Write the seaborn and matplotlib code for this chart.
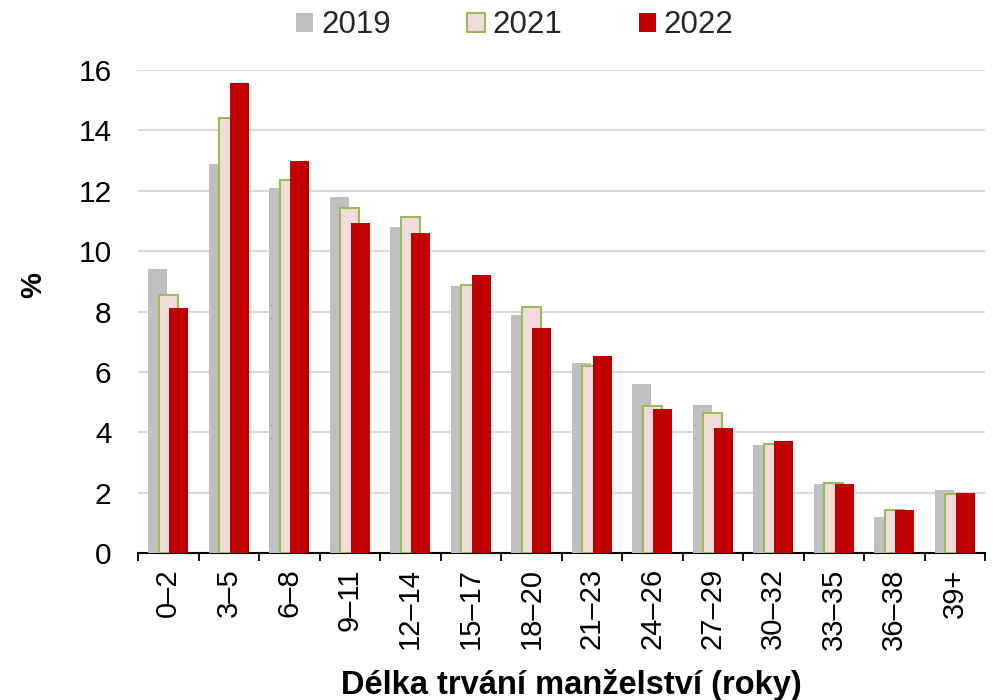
import numpy as np
import pandas as pd
import matplotlib
matplotlib.use("Agg")
import matplotlib.pyplot as plt
from matplotlib.patches import Patch
import seaborn as sns

# Data (share of divorces, %)
categories = ["0–2", "3–5", "6–8", "9–11", "12–14", "15–17", "18–20",
              "21–23", "24–26", "27–29", "30–32", "33–35", "36–38", "39+"]
years = ["2019", "2021", "2022"]
v2019 = [9.4, 12.9, 12.1, 11.8, 10.8, 8.86, 7.9, 6.28, 5.61, 4.91, 3.59, 2.30, 1.18, 2.08]
v2021 = [8.54, 14.41, 12.36, 11.44, 11.13, 8.87, 8.15, 6.21, 4.88, 4.64, 3.61, 2.33, 1.43, 1.95]
v2022 = [8.10, 15.58, 13.0, 10.92, 10.59, 9.22, 7.45, 6.54, 4.77, 4.13, 3.70, 2.28, 1.42, 2.00]
yticks = [0, 2, 4, 6, 8, 10, 12, 14, 16]

sns.set_theme(style="white")
plt.rcParams["font.family"] = ["Liberation Sans", "DejaVu Sans"]

fig = plt.figure(figsize=(9.94, 7), dpi=100)
ax = fig.add_axes([138 / 994, 1 - 553 / 700, (985 - 138) / 994, (553 - 70) / 700])

pos = np.arange(len(categories))
styles = [
    (v2019, -0.174, "#bfbfbf", "#bfbfbf", 0),
    (v2021, 0.0, "#f2dcdb", "#9bbb59", 1.5),
    (v2022, 0.174, "#c00000", "#c00000", 0),
]
for vals, off, fc, ec, lw in styles:
    df = pd.DataFrame({"x": pos + off, "y": vals})
    sns.barplot(data=df, x="x", y="y", native_scale=True, orient="x",
                width=0.32, color=fc, edgecolor=ec, linewidth=lw,
                saturation=1, errorbar=None, ax=ax, zorder=3)

ax.set_xlim(-0.5, len(categories) - 0.5)
ax.set_ylim(0, 16)
ax.set_yticks(yticks)
ax.set_yticklabels([str(t) for t in yticks], fontsize=21.5)
ax.set_xticks(pos)
ax.set_xticklabels(categories, rotation=90, fontsize=21)
ax.set_xticks(np.arange(len(categories) + 1) - 0.5, minor=True)
ax.tick_params(axis="x", which="major", length=0, pad=11, colors="black")
ax.tick_params(axis="x", which="minor", length=5.5, width=1.3, direction="out",
               color="black", bottom=True)
ax.tick_params(axis="y", length=0, pad=19, colors="black")

ax.grid(axis="y", color="#d9d9d9", linewidth=1.5, zorder=0)
ax.grid(axis="x", visible=False)
ax.set_axisbelow(True)
for s in ["left", "right", "top"]:
    ax.spines[s].set_visible(False)
ax.spines["bottom"].set_color("black")
ax.spines["bottom"].set_linewidth(1.5)

ax.set_xlabel("Délka trvání manželství (roky)", fontsize=23.5, fontweight="bold",
              color="black", labelpad=14)
ax.xaxis.label.set_x(0.512)
ax.set_ylabel("%", fontsize=21, fontweight="bold", color="black")
ax.yaxis.set_label_coords(-0.107, 0.555)

handles = [
    Patch(facecolor="#bfbfbf", edgecolor="#bfbfbf", linewidth=0),
    Patch(facecolor="#f2dcdb", edgecolor="#9bbb59", linewidth=1.5),
    Patch(facecolor="#c00000", edgecolor="#c00000", linewidth=0),
]
fig.legend(handles, years, loc="center", bbox_to_anchor=(0.518, 0.964),
           ncol=3, frameon=False, fontsize=22.5, handlelength=0.55, handleheight=0.55,
           handletextpad=0.25, columnspacing=2.45, borderpad=0, borderaxespad=0)

fig.savefig("out.png", dpi=100)
